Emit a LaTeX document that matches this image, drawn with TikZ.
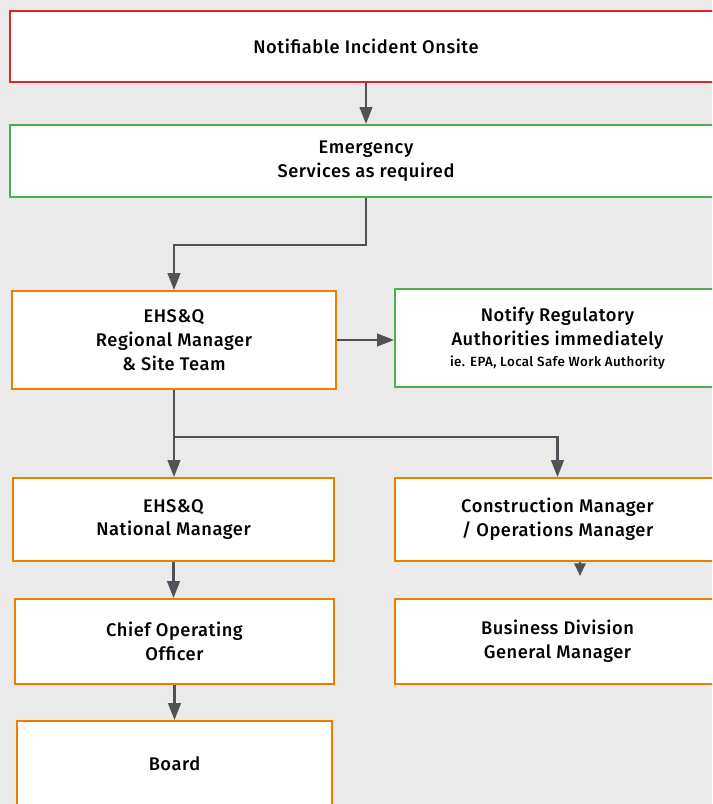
\documentclass[tikz,border=0pt]{standalone}
\usepackage{fontspec}
\IfFontExistsTF{Fira Sans Medium}
  {\setmainfont{Fira Sans Medium}[LetterSpace=3]}
  {\setmainfont{Fira Sans}[LetterSpace=3]}
\usetikzlibrary{arrows.meta}
\definecolor{mygray1}{RGB}{234, 234, 234}
\definecolor{myred}{RGB}{226, 35, 43}
\definecolor{mygreen}{RGB}{76, 175, 80}
\definecolor{myorange}{RGB}{239, 125, 0}
\definecolor{myarrow}{RGB}{80, 82, 88}
\tikzset{>={Triangle[width=9pt,length=12pt]}}
\tikzset{box/.style={draw, fill=white, line width=1.4pt, align=center, inner sep=0pt,
  font=\fontsize{13}{17}\selectfont},
  link/.style={->, line width=1.5pt, color=myarrow}}

\begin{document}
\begin{tikzpicture}[x=0.025cm, y=-0.025cm]

\fill[mygray1] (0,0) rectangle (712,804);
\useasboundingbox (0,0) rectangle (712,804);
\clip (0,0) rectangle (712,804);

\node[box, draw=myred, minimum width=17.775cm, minimum height=1.775cm] (incident) at (366,46.5) {Notifiable Incident Onsite};
\node[box, draw=mygreen, minimum width=17.775cm, minimum height=1.8cm] (emergency) at (366,161) {Emergency\\Services as required};
\node[box, draw=myorange, minimum width=8.1cm, minimum height=2.45cm] (regional) at (174,340) {EHS\&Q\\Regional Manager\\\& Site Team};
\node[box, draw=mygreen, minimum width=8.125cm, minimum height=2.45cm] (notify) at (557.5,338) {Notify Regulatory\\Authorities immediately\\[-2pt]{\fontsize{9.5}{12}\selectfont ie. EPA, Local Safe Work Authority}};
\node[box, draw=myorange, minimum width=8.025cm, minimum height=2.075cm] (national) at (173.5,519.5) {EHS\&Q\\National Manager};
\node[box, draw=myorange, minimum width=8.125cm, minimum height=2.075cm] (construction) at (557.5,519.5) {Construction Manager\\/ Operations Manager};
\node[box, draw=myorange, minimum width=7.975cm, minimum height=2.125cm] (coo) at (174.5,641.5) {Chief Operating\\Officer};
\node[box, draw=myorange, minimum width=8.125cm, minimum height=2.125cm] (division) at (557.5,641.5) {Business Division\\General Manager};
\node[box, draw=myorange, minimum width=7.875cm, minimum height=2.15cm] (board) at (174.5,764) {Board};

\coordinate (split1) at (366,245);
\coordinate (split2) at (174,437);
\coordinate (tipend) at (580,576);

\draw[link] (incident) -- (emergency);
\draw[link] (emergency.south) -- (split1) -| (regional.north);
\draw[link] (regional.east) -- (regional.east -| notify.west);
\draw[link] (regional.south) -- (regional.south |- national.north);
\draw[link] (split2) -| (construction.north);
\draw[link, -{Triangle[width=8pt,length=9pt]}] (construction.south -| tipend) -- (tipend);
\draw[link] (national.south) -- (national.south |- coo.north);
\draw[link] (coo) -- (board);

\end{tikzpicture}
\end{document}
